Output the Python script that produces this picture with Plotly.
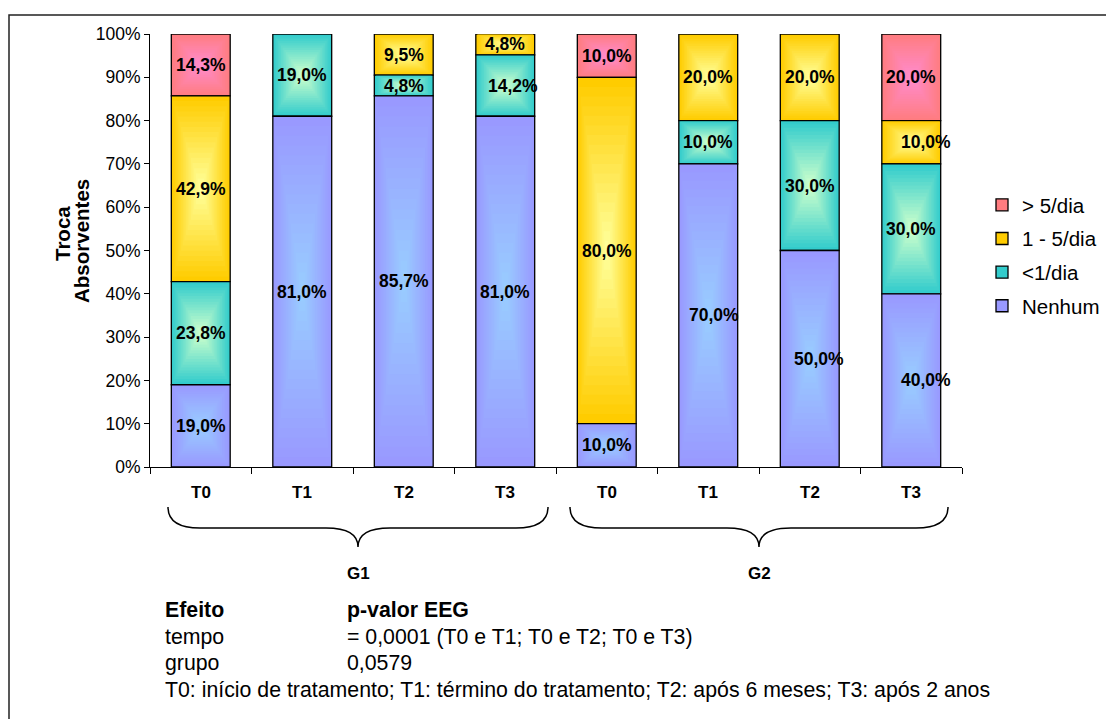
import plotly.graph_objects as go

# ---- data -------------------------------------------------------------
groups = ["G1", "G2"]
times = ["T0", "T1", "T2", "T3"]
bar_labels = times + times                      # one bar per group/time
series_names = ["Nenhum", "<1/dia", "1 - 5/dia", "> 5/dia"]
nenhum = [19.0, 81.0, 85.7, 81.0, 10.0, 70.0, 50.0, 40.0]
menos_de_1 = [23.8, 19.0, 4.8, 14.2, 0.0, 10.0, 30.0, 30.0]
de_1_a_5 = [42.9, 0.0, 9.5, 4.8, 80.0, 20.0, 20.0, 10.0]
mais_de_5 = [14.3, 0.0, 0.0, 0.0, 10.0, 0.0, 0.0, 20.0]
y_ticks = list(range(0, 101, 10))

series_values = [nenhum, menos_de_1, de_1_a_5, mais_de_5]

# ---- style ------------------------------------------------------------
FONT = "Arial, 'Liberation Sans', sans-serif"
# (edge colour, centre colour) of the centre-out gradient fill
fills = [
    ((153, 153, 255), (153, 204, 255)),
    ((51, 204, 204), (204, 255, 204)),
    ((255, 204, 0), (255, 255, 153)),
    ((255, 124, 128), (255, 140, 205)),
]
BAR_W = 0.58
LAYERS = 18
# small sideways nudges of some value labels (bar index, series index) -> px
label_nudge = {(3, 1): 8, (5, 0): 6, (6, 0): 9, (7, 0): 15, (7, 2): 15}

PLOT_L, PLOT_R, PLOT_T, PLOT_B = 150, 962, 34, 467
W, H = 1106, 719
PW, PH = PLOT_R - PLOT_L, PLOT_B - PLOT_T


def px_x(px):
    return (px - PLOT_L) / PW


def px_y(py):
    return (PLOT_B - py) / PH


def mix(a, b, t):
    return "rgb(%d,%d,%d)" % tuple(round(a[i] + (b[i] - a[i]) * t) for i in range(3))


xs = list(range(len(bar_labels)))
fig = go.Figure()
annotations = []

# stacked bottoms of every segment
bottoms_of = []
acc = [0.0] * len(xs)
for vals in series_values:
    bottoms_of.append(acc)
    acc = [b + v for b, v in zip(acc, vals)]

# top series first so the legend lists "> 5/dia" at the top
for s in reversed(range(len(series_names))):
    name, vals, bottoms = series_names[s], series_values[s], bottoms_of[s]
    edge, centre = fills[s]
    # concentric, shrinking copies of each segment build the gradient
    for k in range(LAYERS):
        t = k / LAYERS
        keep = 1 - t
        heights = [v * keep if v > 0 else None for v in vals]
        bases = [b + v * t / 2 for b, v in zip(bottoms, vals)]
        fig.add_trace(go.Bar(
            x=xs, y=heights, base=bases, width=BAR_W * keep,
            name=name, legendgroup=name, showlegend=(k == 0),
            marker=dict(color=mix(edge, centre, k / (LAYERS - 1)),
                        line=dict(color="black", width=1.3 if k == 0 else 0)),
            hoverinfo="skip" if k else "x+y+name",
        ))
    for i, (b, v) in enumerate(zip(bottoms, vals)):
        if v > 0:
            annotations.append(dict(
                x=i, y=b + v / 2, xref="x", yref="y",
                xanchor="center", yanchor="middle",
                text="<b>%s%%</b>" % f"{v:.1f}".replace(".", ","),
                showarrow=False, xshift=label_nudge.get((i, s), 0),
                font=dict(family=FONT, size=17.5, color="black"),
            ))

# category labels under the axis
for i, lab in enumerate(bar_labels):
    annotations.append(dict(
        x=i, y=px_y(492), xref="x", yref="paper", text="<b>%s</b>" % lab,
        xanchor="center", yanchor="middle",
        showarrow=False, font=dict(family=FONT, size=17, color="black"),
    ))

# braces grouping the time points
shapes = []
n_t = len(times)
brace_pad = [(18, 8), (14, 14)]
for g, gname in enumerate(groups):
    pad_l, pad_r = brace_pad[g]
    left = px_x(PLOT_L + (g * n_t) * PW / len(xs) + pad_l)
    right = px_x(PLOT_L + (g * n_t + n_t) * PW / len(xs) - pad_r)
    mid = (left + right) / 2
    top, flat, tip = px_y(507), px_y(528), px_y(547)
    rx = 32 / PW
    path = (f"M{left},{top} Q{left},{flat} {left + rx},{flat} "
            f"L{mid - rx},{flat} Q{mid},{flat} {mid},{tip} "
            f"Q{mid},{flat} {mid + rx},{flat} L{right - rx},{flat} "
            f"Q{right},{flat} {right},{top}")
    shapes.append(dict(type="path", path=path, xref="paper", yref="paper",
                       line=dict(color="black", width=1.5)))
    annotations.append(dict(
        x=mid, y=px_y(573), xref="paper", yref="paper", text="<b>%s</b>" % gname,
        xanchor="center", yanchor="middle",
        showarrow=False, font=dict(family=FONT, size=17, color="black"),
    ))

# outer frame of the chart
shapes.append(dict(type="rect", xref="paper", yref="paper",
                   x0=px_x(9), x1=px_x(W + 10), y0=px_y(H + 10), y1=px_y(15),
                   line=dict(color="#222222", width=1.5), layer="below"))

# axis title
annotations += [
    dict(x=px_x(62), y=px_y(234), xref="paper", yref="paper", text="<b>Troca</b>",
         xanchor="center", yanchor="middle", textangle=-90, showarrow=False,
         font=dict(family=FONT, size=20.5, color="black")),
    dict(x=px_x(81), y=px_y(241), xref="paper", yref="paper", text="<b>Absorventes</b>",
         xanchor="center", yanchor="middle", textangle=-90, showarrow=False,
         font=dict(family=FONT, size=20.5, color="black")),
]

# statistics table below the chart
notes = [
    (163, 610, "<b>Efeito</b>"), (345, 610, "<b>p-valor EEG</b>"),
    (163, 637, "tempo"), (345, 637, "= 0,0001 (T0 e T1; T0 e T2; T0 e T3)"),
    (163, 663, "grupo"), (345, 663, "0,0579"),
    (163, 690, "T0: início de tratamento; T1: término do tratamento; T2: após 6 meses; T3: após 2 anos"),
]
for nx, ny, txt in notes:
    annotations.append(dict(
        x=px_x(nx), y=px_y(ny), xref="paper", yref="paper", text=txt,
        xanchor="left", yanchor="middle", showarrow=False,
        font=dict(family=FONT, size=21.3, color="black"),
    ))

fig.update_layout(
    width=W, height=H, barmode="overlay",
    margin=dict(l=PLOT_L, r=W - PLOT_R, t=PLOT_T, b=H - PLOT_B, autoexpand=False),
    paper_bgcolor="white", plot_bgcolor="white",
    font=dict(family=FONT, size=17, color="black"),
    showlegend=True,
    legend=dict(x=px_x(982), y=px_y(185), xanchor="left", yanchor="top",
                traceorder="grouped", tracegroupgap=4,
                font=dict(family=FONT, size=20.5, color="black"),
                bgcolor="rgba(0,0,0,0)"),
    xaxis=dict(range=[-0.5, len(xs) - 0.5], tickmode="linear", tick0=-0.5, dtick=1,
               showticklabels=False, ticks="outside", ticklen=6, tickcolor="black",
               showline=True, linecolor="black", linewidth=1, showgrid=False,
               zeroline=False, fixedrange=True),
    yaxis=dict(range=[0, 100], tickvals=y_ticks, ticktext=[f"{v}%" for v in y_ticks],
               ticks="outside", ticklen=5, tickcolor="black", showline=True,
               linecolor="black", linewidth=1, showgrid=False, zeroline=False,
               tickfont=dict(family=FONT, size=17.5, color="black"), fixedrange=True),
    annotations=annotations, shapes=shapes,
)

fig.write_html("out.html")
